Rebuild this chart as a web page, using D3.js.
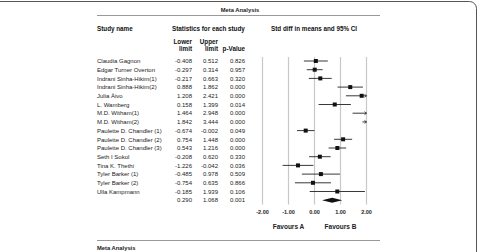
<!DOCTYPE html>
<html>
<head>
<meta charset="utf-8">
<script src="https://cdn.jsdelivr.net/npm/d3@7"></script>
<style>
  body { margin: 0; background: #fff; }
  svg { display: block; font-family: "Liberation Sans", Arial, sans-serif; }
</style>
</head>
<body>
<div id="chart"></div>
<script>
const studies = ["Claudia Gagnon", "Edgar Turner Overton", "Indrani Sinha-Hikim(1)", "Indrani Sinha-Hikim(2)",
  "Julia Äivo", "L. Wamberg", "M.D. Witham(1)", "M.D. Witham(2)", "Paulette D. Chandler (1)",
  "Paulette D. Chandler (2)", "Paulette D. Chandler (3)", "Seth I Sokol", "Tina K. Thethi",
  "Tyler Barker (1)", "Tyler Barker (2)", "Ulla Kampmann"];
const lower = [-0.408, -0.297, -0.217, 0.888, 1.208, 0.158, 1.464, 1.842, -0.674, 0.754, 0.543, -0.208, -1.226, -0.485, -0.754, -0.185];
const upper = [0.512, 0.314, 0.663, 1.862, 2.421, 1.399, 2.948, 3.444, -0.002, 1.448, 1.216, 0.620, -0.042, 0.978, 0.635, 1.939];
const pValues = [0.826, 0.957, 0.320, 0.000, 0.000, 0.014, 0.000, 0.000, 0.049, 0.000, 0.000, 0.330, 0.036, 0.509, 0.866, 0.106];
const summary = { lower: 0.290, upper: 1.068, p: 0.001 };
const axisTicks = [-2, -1, 0, 1, 2];

const W = 481, H = 252;
const svg = d3.select("#chart").append("svg").attr("width", W).attr("height", H);

// outer frame
svg.append("rect").attr("x", -10).attr("y", 1.5).attr("width", 486.5).attr("height", 280)
  .attr("rx", 7).attr("fill", "none").attr("stroke", "#555").attr("stroke-width", 1);

// plain hyphen instead of d3's unicode minus
const fmt = v => d3.format(".3f")(v).replace("\u2212", "-");
const fmt2 = v => d3.format(".2f")(v).replace("\u2212", "-");
const x = d3.scaleLinear().domain([-2, 2]).range([262.5, 366.5]);
const rows = d3.range(studies.length + 1);
const y = d3.scalePoint().domain(rows).range([61, 200.2]);

// titles and rules
svg.append("text").attr("x", 240).attr("y", 11.5).attr("text-anchor", "middle")
  .style("font-size", "5.8px").style("font-weight", "bold").attr("fill", "#222").text("Meta Analysis");
svg.append("line").attr("x1", 97).attr("x2", 380).attr("y1", 15.5).attr("y2", 15.5)
  .attr("stroke", "#999").attr("stroke-width", 1.2);
svg.append("line").attr("x1", 97).attr("x2", 380).attr("y1", 240.5).attr("y2", 240.5)
  .attr("stroke", "#999").attr("stroke-width", 1.2);
svg.append("text").attr("x", 97).attr("y", 249.5)
  .style("font-size", "5.8px").style("font-weight", "bold").attr("fill", "#222").text("Meta Analysis");

const hdr = (t, xx, yy, anchor) => svg.append("text").attr("x", xx).attr("y", yy)
  .attr("text-anchor", anchor || "start").style("font-size", "6.3px").style("font-weight", "bold")
  .attr("fill", "#111").text(t);
hdr("Study name", 97, 30.5);
hdr("Statistics for each study", 172, 30.5);
hdr("Std diff in means and 95% CI", 271, 30.5);
hdr("Lower", 192, 43.5, "end");
hdr("limit", 192, 50.5, "end");
hdr("Upper", 218, 43.5, "end");
hdr("limit", 218, 50.5, "end");
hdr("p-Value", 245, 50.5, "end");

// grid lines
svg.append("g").selectAll("line").data(axisTicks).join("line")
  .attr("x1", d => x(d)).attr("x2", d => x(d)).attr("y1", 57).attr("y2", 204.5)
  .attr("stroke", "#c8c8c8").attr("stroke-width", 1.2);

// table rows
const txt = svg.append("g").style("font-size", "6px").attr("fill", "#222");
studies.forEach((s, i) => {
  const yy = y(i) + 2.2;
  txt.append("text").attr("x", 97).attr("y", yy).text(s);
  txt.append("text").attr("x", 192).attr("y", yy).attr("text-anchor", "end").text(fmt(lower[i]));
  txt.append("text").attr("x", 218).attr("y", yy).attr("text-anchor", "end").text(fmt(upper[i]));
  txt.append("text").attr("x", 245).attr("y", yy).attr("text-anchor", "end").text(fmt(pValues[i]));
});
const ys = y(studies.length) + 2.2;
txt.append("text").attr("x", 192).attr("y", ys).attr("text-anchor", "end").text(fmt(summary.lower));
txt.append("text").attr("x", 218).attr("y", ys).attr("text-anchor", "end").text(fmt(summary.upper));
txt.append("text").attr("x", 245).attr("y", ys).attr("text-anchor", "end").text(fmt(summary.p));

// CI lines, clipped to the axis range
const clamp = v => Math.max(-2, Math.min(2, v));
const ci = svg.append("g");
studies.forEach((s, i) => {
  const yy = y(i);
  const mean = (lower[i] + upper[i]) / 2;
  ci.append("line").attr("x1", x(clamp(lower[i]))).attr("x2", x(clamp(upper[i])))
    .attr("y1", yy).attr("y2", yy).attr("stroke", "#222").attr("stroke-width", 0.9);
  if (upper[i] > 2) {
    const ax = x(2);
    ci.append("path").attr("d", `M${ax - 2},${yy - 1.5}L${ax},${yy}L${ax - 2},${yy + 1.5}`)
      .attr("fill", "none").attr("stroke", "#222").attr("stroke-width", 0.8);
  }
  if (mean >= -2 && mean <= 2) {
    ci.append("rect").attr("x", x(mean) - 2).attr("y", yy - 2).attr("width", 4).attr("height", 4)
      .attr("fill", "#111");
  }
});

// summary diamond
const yd = y(studies.length);
const mid = (summary.lower + summary.upper) / 2;
svg.append("path")
  .attr("d", `M${x(summary.lower)},${yd}L${x(mid)},${yd - 2.5}L${x(summary.upper)},${yd}L${x(mid)},${yd + 2.5}Z`)
  .attr("fill", "#111");

// axis labels
svg.append("g").selectAll("text").data(axisTicks).join("text")
  .attr("x", d => x(d)).attr("y", 214).attr("text-anchor", "middle")
  .style("font-size", "5.5px").style("font-weight", "bold").attr("fill", "#222")
  .text(fmt2);
svg.append("text").attr("x", x(-1)).attr("y", 229).attr("text-anchor", "middle")
  .style("font-size", "6.5px").style("font-weight", "bold").attr("fill", "#222").text("Favours A");
svg.append("text").attr("x", x(1)).attr("y", 229).attr("text-anchor", "middle")
  .style("font-size", "6.5px").style("font-weight", "bold").attr("fill", "#222").text("Favours B");
</script>
</body>
</html>
